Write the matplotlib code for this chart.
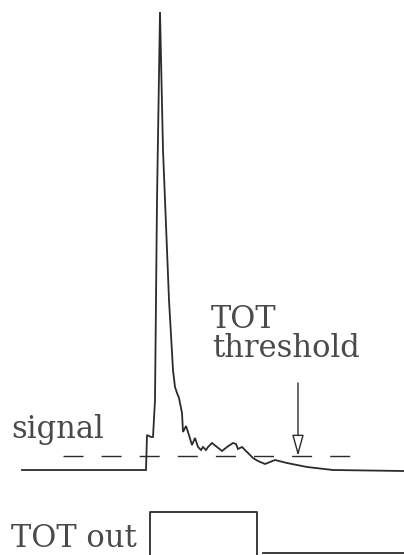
import matplotlib
matplotlib.use("Agg")
import matplotlib.pyplot as plt

# analog signal from the front end: time vs amplitude above baseline
sig_t = [22, 146, 147, 149, 151, 153, 155, 157, 160, 163, 165, 169, 173, 175,
         177, 179, 182, 183, 186, 188, 192, 195, 198, 201, 203, 206, 208, 212,
         217, 222, 227, 233, 236, 238, 242, 247, 253, 258, 265, 270, 275, 287,
         307, 333, 404]
sig_v = [0, 0, 35, 34, 33, 33, 70, 270, 458, 320, 270, 170, 100, 83,
         77, 72, 57, 38, 44, 38, 25, 32, 23, 20, 23, 20, 23, 27,
         23, 19, 23, 27, 26, 21, 23, 18, 12, 9, 6, 8, 10, 7,
         3, 0, -1]

# threshold level and where the discriminator line is drawn
thr_v = 14
thr_t = [63, 350]
arrow_t = 298
arrow_top = 87

# time-over-threshold digital output
tot_t = [150, 150, 257, 257]
tot_v = [-95, -42, -42, -95]
tot_base_t = [263, 404]
tot_base_v = [-83, -83]

ink = "#2b2b2b"
txt = "#4a4a4a"

fig = plt.figure(figsize=(4.04, 5.55), dpi=100)
ax = fig.add_axes([0, 0, 1, 1])
ax.set_xlim(0, 404)
ax.set_ylim(-85, 470)
ax.axis("off")

ax.plot(sig_t, sig_v, color=ink, lw=1.3, solid_joinstyle="miter")

lw = 1.0
ax.plot(thr_t, [thr_v, thr_v], color=ink, lw=lw,
        linestyle=(0, (20 * 0.72 / lw, 18.1 * 0.72 / lw)))

ax.annotate("", xy=(arrow_t, thr_v), xytext=(arrow_t, arrow_top),
            arrowprops=dict(arrowstyle="-|>,head_length=1.3,head_width=0.36",
                            mutation_scale=10, fc="white", ec=ink, lw=1.0,
                            shrinkA=0, shrinkB=0))

ax.plot(tot_t, tot_v, color=ink, lw=1.3)
ax.plot(tot_base_t, tot_base_v, color=ink, lw=1.3)

font = dict(family="DejaVu Serif", fontsize=22, color=txt, va="baseline", ha="left")
ax.text(211, 142, "TOT", **font)
ax.text(212, 113, "threshold", **font)
ax.text(11, 32, "signal", **font)
ax.text(11, -77, "TOT out", **font)

fig.savefig("out.png", dpi=100)
